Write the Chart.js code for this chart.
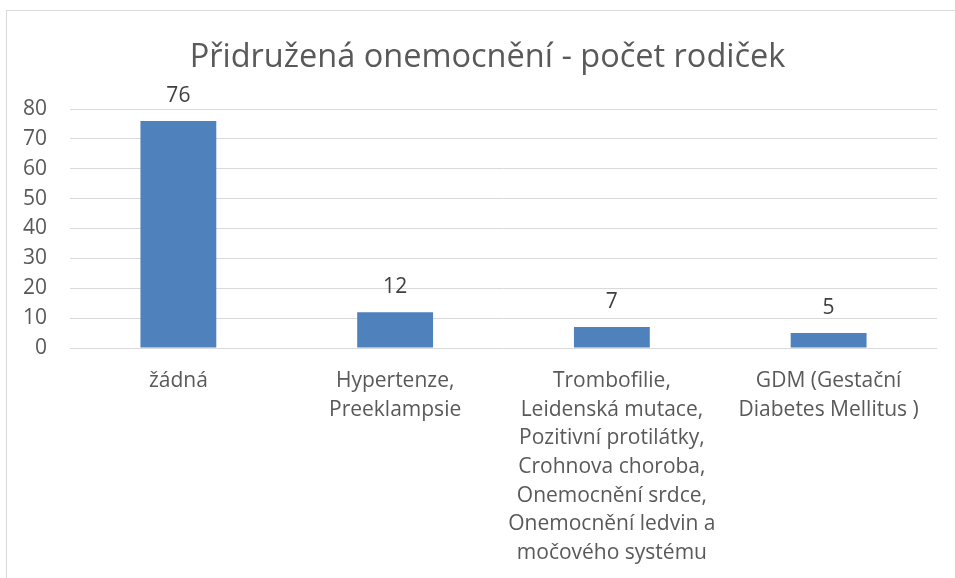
<!doctype html>
<html>
    <head>
        <title>Přidružená onemocnění</title>
        <script src="https://cdn.jsdelivr.net/npm/chart.js@4"></script>
        <style>
            body { margin: 0; background: #fff; }
            #frame {
                position: absolute; left: 6px; top: 10px;
                width: 980px; height: 620px;
                border: 1px solid #d9d9d9;
            }
            #box { position: absolute; left: 0; top: 0; width: 955px; height: 578px; }
        </style>
    </head>
    <body>
        <div id="frame"></div>
        <div id="box"><canvas id="myChart" width="955" height="578"></canvas></div>
        <script>
            var categories = [
                ["žádná"],
                ["Hypertenze,", "Preeklampsie"],
                ["Trombofilie,", "Leidenská mutace,", "Pozitivní protilátky,", "Crohnova choroba,", "Onemocnění srdce,", "Onemocnění ledvin a", "močového systému"],
                ["GDM (Gestační", "Diabetes Mellitus )"]
            ];
            var counts = [76, 12, 7, 5];
            var yTicks = [0, 10, 20, 30, 40, 50, 60, 70, 80];

            var FONT = "'Open Sans'";

            // numbers above bars
            var valueLabels = {
                id: 'valueLabels',
                afterDatasetsDraw: function (chart) {
                    var ctx = chart.ctx;
                    var meta = chart.getDatasetMeta(0);
                    ctx.save();
                    ctx.font = "21px " + FONT;
                    ctx.fillStyle = "#404040";
                    ctx.textAlign = "center";
                    ctx.textBaseline = "middle";
                    meta.data.forEach(function (bar, i) {
                        ctx.fillText(String(counts[i]), bar.x, bar.y - 25);
                    });
                    ctx.restore();
                }
            };

            var ctx = document.getElementById("myChart").getContext("2d");
            new Chart(ctx, {
                type: 'bar',
                data: {
                    labels: categories,
                    datasets: [{
                        data: counts,
                        backgroundColor: '#4f81bd',
                        barPercentage: 0.35,
                        categoryPercentage: 1.0
                    }]
                },
                plugins: [valueLabels],
                options: {
                    responsive: false,
                    animation: false,
                    layout: { padding: { left: 20, right: 0, top: 0, bottom: 0 } },
                    plugins: {
                        legend: { display: false },
                        tooltip: { enabled: false },
                        title: {
                            display: true,
                            text: 'Přidružená onemocnění - počet rodiček',
                            color: '#595959',
                            font: { family: FONT, size: 32.5, weight: 'normal' },
                            padding: { top: 38, bottom: 32 }
                        }
                    },
                    scales: {
                        x: {
                            grid: { display: false, drawTicks: false },
                            border: { display: false },
                            ticks: {
                                color: '#595959',
                                font: { family: FONT, size: 21, lineHeight: 1.36 },
                                padding: 19,
                                maxRotation: 0,
                                autoSkip: false
                            },
                            afterFit: function (scale) { scale.height = 230; }
                        },
                        y: {
                            min: 0,
                            max: 80,
                            afterBuildTicks: function (scale) {
                                scale.ticks = yTicks.map(function (v) { return { value: v }; });
                            },
                            grid: { color: '#d9d9d9', lineWidth: 1, drawTicks: false },
                            border: { display: false },
                            ticks: {
                                color: '#595959',
                                font: { family: FONT, size: 21 },
                                padding: 23
                            },
                            afterFit: function (scale) { scale.width = 50; }
                        },
                        // empty spacer on the right so plot ends before the edge
                        yRight: {
                            position: 'right',
                            display: true,
                            grid: { display: false, drawTicks: false },
                            border: { display: false },
                            ticks: { display: false },
                            afterFit: function (scale) { scale.width = 18; }
                        }
                    }
                }
            });
        </script>
    </body>
</html>
